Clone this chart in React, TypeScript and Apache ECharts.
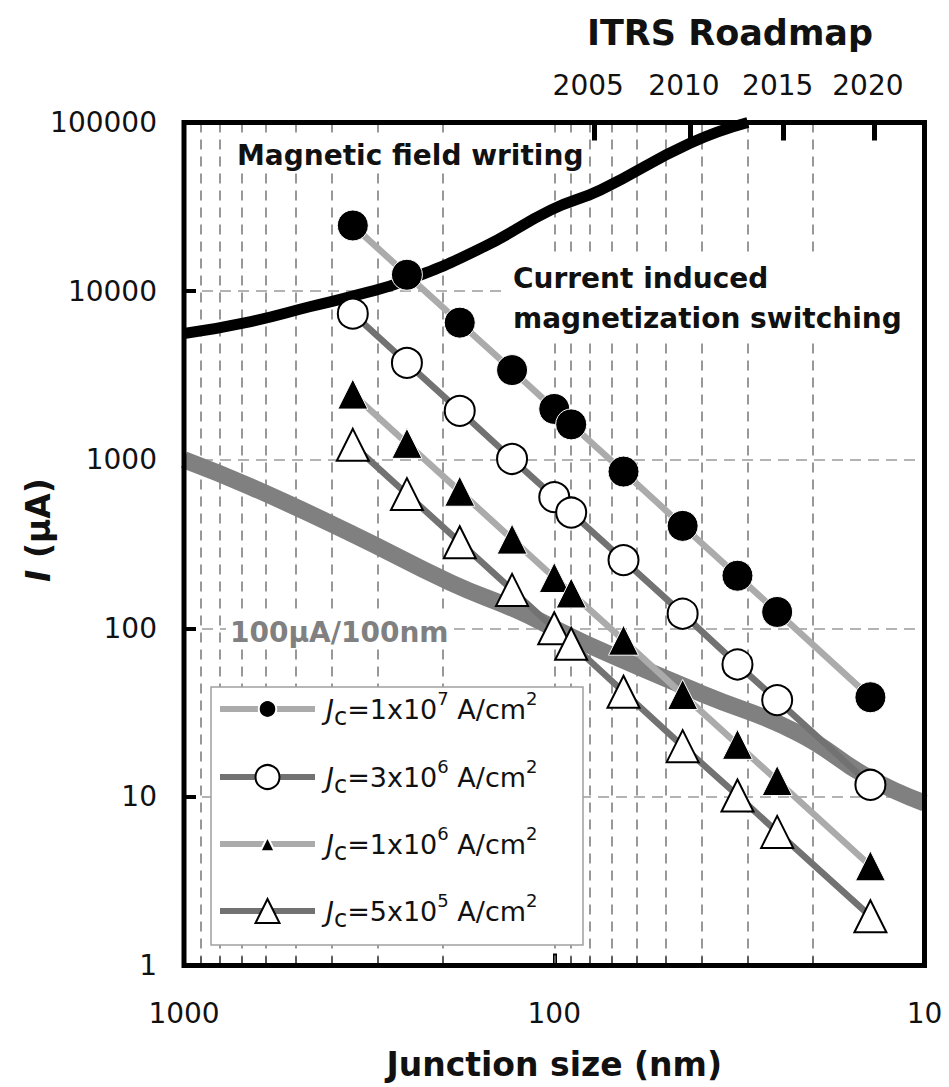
import React, { useEffect, useRef } from 'react';
import * as echarts from 'echarts';

const FONT = '"DejaVu Sans", "Liberation Sans", sans-serif';

// Junction sizes (nm) of the ITRS-like nodes used by the four Jc series
const junctionSizes = [350, 250, 180, 130, 100, 90, 65, 45, 32, 25, 14];
// Switching current I (µA) for each critical current density
const currentJc1e7 = [24500, 12500, 6500, 3400, 2000, 1620, 850, 405, 205, 125, 39];
const currentJc3e6 = [7350, 3750, 1950, 1010, 600, 486, 254, 122, 61, 37.5, 11.8];
const currentJc1e6 = [2450, 1250, 650, 338, 200, 162, 85, 40.5, 20.5, 12.5, 3.9];
const currentJc5e5 = [1225, 625, 324, 169, 100, 81, 42, 20, 10.2, 6.2, 1.96];

// Magnetic field writing curve
const fieldSizes = [1000, 660, 455, 340, 250, 155, 102, 75, 43, 30];
const fieldCurrent = [5600, 6600, 8100, 9500, 11600, 18300, 30300, 39800, 75300, 100000];

// 100µA/100nm reference band
const refSizes = [1000, 660, 355, 190, 126, 100, 75, 40, 22, 14.3, 10];
const refCurrent = [1000, 690, 367, 186, 128, 100, 74, 41, 24, 13.2, 9.2];

const seriesNames = [
  'Jc=1x10^7 A/cm^2',
  'Jc=3x10^6 A/cm^2',
  'Jc=1x10^6 A/cm^2',
  'Jc=5x10^5 A/cm^2',
];
const legendLabels = [
  '{j|J}{sub|c}=1x10{sup|7} A/cm{sup|2}',
  '{j|J}{sub|c}=3x10{sup|6} A/cm{sup|2}',
  '{j|J}{sub|c}=1x10{sup|6} A/cm{sup|2}',
  '{j|J}{sub|c}=5x10{sup|5} A/cm{sup|2}',
];

// Vertical dashed grid positions (nm) and bottom minor ticks
const gridSizes = [900, 800, 700, 600, 500, 400, 300, 200, 100, 90, 80, 70, 60, 50, 40, 30, 20];
const minorTickSizes = [900, 800, 700, 600, 500, 400, 300, 200, 90, 80, 70, 60, 50, 40, 30, 20];

// ITRS roadmap (top axis)
const roadmapYears = ['2005', '2010', '2015', '2020'];
const roadmapSizes = [78, 43, 24, 13.7];

const pairs = (xs: number[], ys: number[]) => xs.map((x, i) => [x, ys[i]]);
const log10 = (v: number) => Math.log10(v);
const yearFor = (v: number) => {
  const i = roadmapSizes.findIndex((s) => Math.abs(Math.log10(s) - v) < 1e-3);
  return i >= 0 ? roadmapYears[i] : '';
};

const axisFont = { fontFamily: FONT, fontSize: 28, color: '#111' };

const legendRich = {
  j: { fontFamily: FONT, fontSize: 27, fontStyle: 'italic', lineHeight: 40, color: '#111' },
  sub: { fontFamily: FONT, fontSize: 24, lineHeight: 24, verticalAlign: 'bottom', color: '#111' },
  sup: { fontFamily: FONT, fontSize: 18, lineHeight: 14, verticalAlign: 'top', color: '#111' },
};
const legendItemHeights = [22, 30, 18, 30];
const legendTops = [689, 757, 824, 891];

const seriesStyles = [
  { symbol: 'circle', symbolSize: 31, fill: '#000', border: '#fff', bw: 1, line: '#ababab' },
  { symbol: 'circle', symbolSize: 30, fill: '#fff', border: '#000', bw: 2, line: '#727272' },
  { symbol: 'triangle', symbolSize: 30, fill: '#000', border: '#fff', bw: 1, line: '#ababab' },
  { symbol: 'triangle', symbolSize: 32, fill: '#fff', border: '#000', bw: 2, line: '#727272' },
];
const seriesValues = [currentJc1e7, currentJc3e6, currentJc1e6, currentJc5e5];

const option: any = {
  animation: false,
  backgroundColor: '#fff',
  textStyle: { fontFamily: FONT },
  grid: {
    left: 184,
    right: 24.5,
    top: 122.5,
    bottom: 121.5,
    show: true,
    borderColor: '#000',
    borderWidth: 5,
    z: 5,
  },
  xAxis: [
    {
      type: 'log',
      logBase: 10,
      min: 10,
      max: 1000,
      inverse: true,
      position: 'bottom',
      name: 'Junction size (nm)',
      nameLocation: 'middle',
      nameGap: 82,
      nameTextStyle: { fontFamily: FONT, fontSize: 33, fontWeight: 'bold', color: '#111' },
      axisLine: { show: false },
      axisTick: { show: true, inside: true, length: 12, lineStyle: { color: '#000', width: 4 } },
      axisLabel: { ...axisFont, margin: 34, formatter: (v: number) => String(Math.round(v)) },
      splitLine: { show: false },
    },
    {
      type: 'value',
      min: 1,
      max: 3,
      inverse: true,
      position: 'bottom',
      axisLine: { show: false },
      axisLabel: { show: false },
      splitLine: { show: false },
      axisTick: {
        show: true,
        inside: true,
        length: 9,
        lineStyle: { color: '#000', width: 2 },
        customValues: minorTickSizes.map(log10),
      },
    },
    {
      type: 'value',
      min: 1,
      max: 3,
      inverse: true,
      position: 'top',
      axisLine: { show: false },
      splitLine: { show: false },
      axisTick: {
        show: true,
        inside: true,
        length: 18,
        lineStyle: { color: '#000', width: 5 },
        customValues: roadmapSizes.map(log10),
      },
      axisLabel: {
        ...axisFont,
        margin: 23,
        padding: [0, 12, 0, 0],
        customValues: roadmapSizes.map(log10),
        formatter: (v: number) => yearFor(v),
      },
    },
  ],
  yAxis: {
    type: 'log',
    logBase: 10,
    min: 1,
    max: 100000,
    axisLine: { show: false },
    axisTick: { show: true, inside: true, length: 12, lineStyle: { color: '#000', width: 4 } },
    axisLabel: { ...axisFont, margin: 27, formatter: (v: number) => String(Math.round(v)) },
    splitLine: {
      show: true,
      showMinLine: false,
      showMaxLine: false,
      lineStyle: { color: '#9a9a9a', width: 1.5, type: [11, 7] },
    },
  },
  legend: seriesNames.map((name, i) => ({
    left: 217,
    top: legendTops[i],
    orient: 'vertical',
    padding: 0,
    itemWidth: 95,
    itemHeight: legendItemHeights[i],
    selectedMode: false,
    z: 10,
    data: [name],
    lineStyle: { width: 6 },
    formatter: () => legendLabels[i],
    textStyle: {
      fontFamily: FONT,
      fontSize: 27,
      lineHeight: 40,
      color: '#111',
      padding: [0, 0, 0, 6],
      rich: legendRich,
    },
  })),
  graphic: [
    {
      type: 'rect',
      z: 6,
      silent: true,
      shape: { x: 211, y: 687, width: 372, height: 258 },
      style: { fill: '#fff', stroke: '#a0a0a0', lineWidth: 1.5 },
    },
    {
      type: 'text',
      z: 7,
      x: 730,
      y: 33,
      style: {
        text: 'ITRS Roadmap',
        font: `bold 35px ${FONT}`,
        fill: '#111',
        align: 'center',
        verticalAlign: 'middle',
      },
    },
    {
      type: 'text',
      z: 7,
      x: 38,
      y: 530,
      rotation: Math.PI / 2,
      style: {
        text: '{i|I} (µA)',
        font: `bold 33px ${FONT}`,
        fill: '#111',
        align: 'center',
        verticalAlign: 'middle',
        rich: { i: { font: `italic bold 33px ${FONT}`, fill: '#111' } },
      },
    },
    {
      type: 'text',
      z: 7,
      x: 233,
      y: 155,
      style: {
        text: 'Magnetic field writing',
        font: `bold 28px ${FONT}`,
        fill: '#111',
        align: 'left',
        verticalAlign: 'middle',
        backgroundColor: '#fff',
        padding: [3, 4],
      },
    },
    {
      type: 'text',
      z: 7,
      x: 508,
      y: 298,
      style: {
        text: 'Current induced\nmagnetization switching',
        font: `bold 28px ${FONT}`,
        lineHeight: 40,
        fill: '#111',
        align: 'left',
        verticalAlign: 'middle',
        backgroundColor: '#fff',
        padding: [4, 16, 4, 5],
      },
    },
    {
      type: 'text',
      z: 7,
      x: 226,
      y: 632,
      style: {
        text: '100µA/100nm',
        font: `bold 28px ${FONT}`,
        fill: '#808080',
        align: 'left',
        verticalAlign: 'middle',
        backgroundColor: '#fff',
        padding: [3, 4],
      },
    },
  ],
  series: [
    {
      name: 'grid',
      type: 'line',
      data: [],
      silent: true,
      markLine: {
        silent: true,
        z: 1,
        symbol: ['none', 'none'],
        label: { show: false },
        emphasis: { disabled: true },
        lineStyle: { color: '#777', width: 1.5, type: [10, 7] },
        data: gridSizes.map((v) => ({ xAxis: v })),
      },
    },
    {
      name: '100µA/100nm',
      type: 'line',
      data: pairs(refSizes, refCurrent),
      smooth: 0.5,
      symbol: 'none',
      silent: true,
      lineStyle: { color: '#808080', width: 17 },
    },
    {
      name: 'Magnetic field writing',
      type: 'line',
      data: pairs(fieldSizes, fieldCurrent),
      smooth: 0.5,
      symbol: 'none',
      silent: true,
      lineStyle: { color: '#000', width: 11 },
    },
    ...seriesNames.map((name, i) => ({
      name,
      type: 'line',
      data: pairs(junctionSizes, seriesValues[i]),
      symbol: seriesStyles[i].symbol,
      symbolSize: seriesStyles[i].symbolSize,
      silent: true,
      itemStyle: {
        color: seriesStyles[i].fill,
        borderColor: seriesStyles[i].border,
        borderWidth: seriesStyles[i].bw,
      },
      lineStyle: { color: seriesStyles[i].line, width: 6.5 },
    })),
  ],
};

export default function App() {
  const ref = useRef<HTMLDivElement>(null);
  useEffect(() => {
    document.body.style.margin = '0';
    const chart = echarts.init(ref.current!, null, { renderer: 'svg' });
    chart.setOption(option);
    return () => chart.dispose();
  }, []);
  return <div ref={ref} style={{ width: 949, height: 1087 }} />;
}
